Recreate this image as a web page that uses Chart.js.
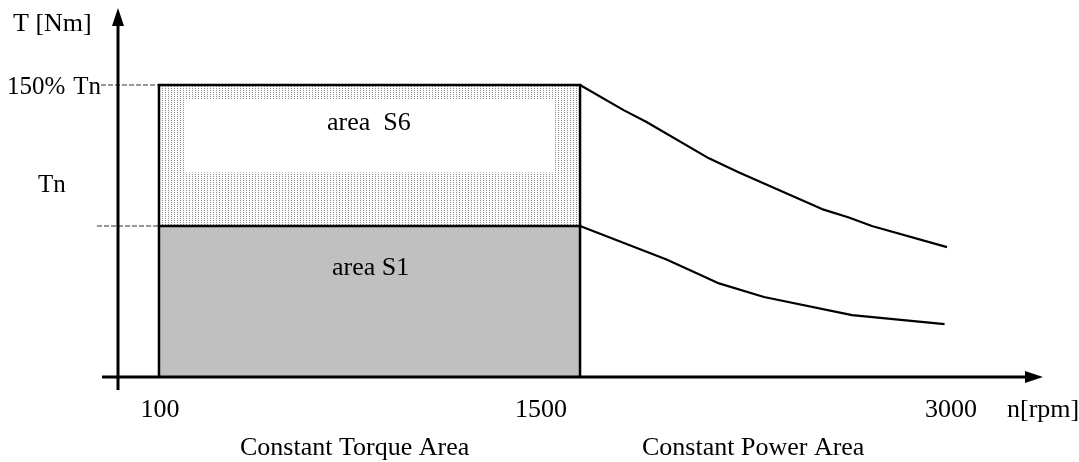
<!DOCTYPE html>
<html>
<head>
<meta charset="utf-8">
<script src="https://cdn.jsdelivr.net/npm/chart.js@4.4.1/dist/chart.umd.min.js"></script>
<style>
  html, body { margin: 0; padding: 0; background: #fff; }
  #wrap { width: 1079px; height: 462px; }
</style>
</head>
<body>
<div id="wrap"><canvas id="torqueChart"></canvas></div>
<script>
// speed n in rpm, torque T in % of Tn (the sketch is not drawn to scale)
const xTicks = [100, 1500, 3000];
const xTickLabels = ['100', '1500', '3000'];
const yTicks = [150, 100];
const yTickLabels = ['150%', 'Tn'];

const s1Speed = [100, 100, 1500, 1500];
const s1Torque = [0, 100, 100, 0];
const s6Speed = [100, 100, 1500, 1500];
const s6Torque = [100, 150, 150, 100];
const s6LabelBoxSpeed = [186, 1414];
const s6LabelBoxTorque = [145, 119];

const peakSpeed = [1500, 1680, 1770, 2027, 2150, 2489, 2599, 2693, 3000];
const peakTorque = [150, 141, 137, 124, 119, 106, 103, 100, 86];
const ratedSpeed = [1500, 1851, 1986, 2068, 2252, 2612, 2990];
const ratedTorque = [100, 78, 68, 62, 53, 41, 35];

const toPoints = (xs, ys) => xs.map((v, i) => ({ x: v, y: ys[i] }));

// linear scale that is stretched piece by piece, like the hand drawn sketch
class SketchScale extends Chart.LinearScale {
  static id = 'sketch';
  static defaults = Chart.LinearScale.defaults;

  getPixelForValue(value) {
    const k = this.options.knots;
    let i = 0;
    while (i < k.length - 2 && value > k[i + 1][0]) i++;
    const [v0, d0] = k[i];
    const [v1, d1] = k[i + 1];
    return this.getPixelForDecimal(d0 + (value - v0) / (v1 - v0) * (d1 - d0));
  }

  getValueForPixel(pixel) {
    const k = this.options.knots;
    const d = this.getDecimalForPixel(pixel);
    let i = 0;
    while (i < k.length - 2 && d > k[i + 1][1]) i++;
    const [v0, d0] = k[i];
    const [v1, d1] = k[i + 1];
    return v0 + (d - d0) / (d1 - d0) * (v1 - v0);
  }
}
Chart.register(SketchScale);

const dotPattern = () => {
  const c = document.createElement('canvas');
  c.width = 3; c.height = 2;
  const g = c.getContext('2d');
  g.fillStyle = '#fff';
  g.fillRect(0, 0, 3, 2);
  g.fillStyle = '#8c8c8c';
  g.fillRect(0, 0, 1, 1);
  return g.createPattern(c, 'repeat');
};

const serif = '"Liberation Serif", "Times New Roman", serif';

const sketchPlugin = {
  id: 'sketchAxes',
  beforeDatasetsDraw(chart) {
    const { ctx, scales: { x, y } } = chart;
    ctx.save();
    ctx.strokeStyle = '#333';
    ctx.lineWidth = 1;
    ctx.setLineDash([5, 2]);
    ctx.beginPath();
    ctx.moveTo(101, y.getPixelForValue(150));
    ctx.lineTo(x.getPixelForValue(100), y.getPixelForValue(150));
    ctx.moveTo(97, y.getPixelForValue(100));
    ctx.lineTo(x.getPixelForValue(100), y.getPixelForValue(100));
    ctx.stroke();
    ctx.restore();
  },
  afterDraw(chart) {
    const { ctx, chartArea: a, scales: { x, y } } = chart;
    ctx.save();
    ctx.strokeStyle = '#000';
    ctx.fillStyle = '#000';
    ctx.lineWidth = 3;

    // axes with arrow heads
    ctx.beginPath();
    ctx.moveTo(a.left - 16, a.bottom);
    ctx.lineTo(a.right - 16, a.bottom);
    ctx.moveTo(a.left, a.bottom + 13);
    ctx.lineTo(a.left, a.top + 14);
    ctx.stroke();
    ctx.beginPath();
    ctx.moveTo(a.right, a.bottom);
    ctx.lineTo(a.right - 18, a.bottom - 6);
    ctx.lineTo(a.right - 18, a.bottom + 6);
    ctx.closePath();
    ctx.moveTo(a.left, a.top - 2);
    ctx.lineTo(a.left - 6, a.top + 16);
    ctx.lineTo(a.left + 6, a.top + 16);
    ctx.closePath();
    ctx.fill();

    ctx.font = '26px ' + serif;
    ctx.textBaseline = 'alphabetic';

    // x tick labels
    const xShift = [1, -39, 4];
    ctx.textAlign = 'center';
    xTicks.forEach((v, i) => {
      ctx.fillText(xTickLabels[i], x.getPixelForValue(v) + xShift[i], a.bottom + 40);
    });
    ctx.textAlign = 'left';
    ctx.fillText('n[rpm]', 1007, a.bottom + 40);

    // y tick labels
    ctx.font = '25px ' + serif;
    const yLeft = [7, 38];
    const yShift = [9, -34];
    yTicks.forEach((v, i) => {
      ctx.fillText(yTickLabels[i], yLeft[i], y.getPixelForValue(v) + yShift[i]);
    });
    ctx.textAlign = 'right';
    ctx.fillText('Tn', 101, y.getPixelForValue(150) + 9);
    ctx.textAlign = 'left';
    ctx.font = '26px ' + serif;
    ctx.fillText('T [Nm]', 13, 31);

    ctx.fillText('Constant Torque Area', 240, 455);
    ctx.fillText('Constant Power Area', 642, 455);
    ctx.fillText('area  S6', 327, 130);
    ctx.fillText('area S1', 332, 275);
    ctx.restore();
  }
};

const line = (data, extra) => Object.assign({
  data,
  borderColor: '#000',
  borderWidth: 2.5,
  pointRadius: 0,
  tension: 0,
  fill: false,
  borderJoinStyle: 'miter'
}, extra);

new Chart(document.getElementById('torqueChart'), {
  type: 'line',
  data: {
    datasets: [
      line(toPoints(s6Speed, s6Torque), { label: 'area S6', fill: { value: 100 }, backgroundColor: dotPattern(), order: 4 }),
      line(toPoints(s6LabelBoxSpeed, [s6LabelBoxTorque[0], s6LabelBoxTorque[0]]), { label: 'S6 label', borderWidth: 0, fill: { value: s6LabelBoxTorque[1] }, backgroundColor: '#fff', order: 3 }),
      line(toPoints(s1Speed, s1Torque), { label: 'area S1', fill: 'origin', backgroundColor: '#c0c0c0', order: 2 }),
      line(toPoints(peakSpeed, peakTorque), { label: 'peak torque', borderWidth: 2.2, borderJoinStyle: 'round', order: 1 }),
      line(toPoints(ratedSpeed, ratedTorque), { label: 'rated torque', borderWidth: 2.2, borderJoinStyle: 'round', order: 0 })
    ]
  },
  options: {
    responsive: true,
    maintainAspectRatio: false,
    animation: false,
    layout: { padding: { left: 118, right: 36, top: 10, bottom: 85 } },
    plugins: { legend: { display: false }, tooltip: { enabled: false } },
    scales: {
      x: {
        type: 'sketch', display: false, min: 0, max: 3250,
        knots: [[0, 0], [100, 0.0443], [1500, 0.4995], [3000, 0.8962], [3250, 1]]
      },
      y: {
        type: 'sketch', display: false, min: 0, max: 190,
        knots: [[0, 0], [100, 0.4114], [150, 0.7956], [190, 1]]
      }
    }
  },
  plugins: [sketchPlugin]
});
</script>
</body>
</html>
